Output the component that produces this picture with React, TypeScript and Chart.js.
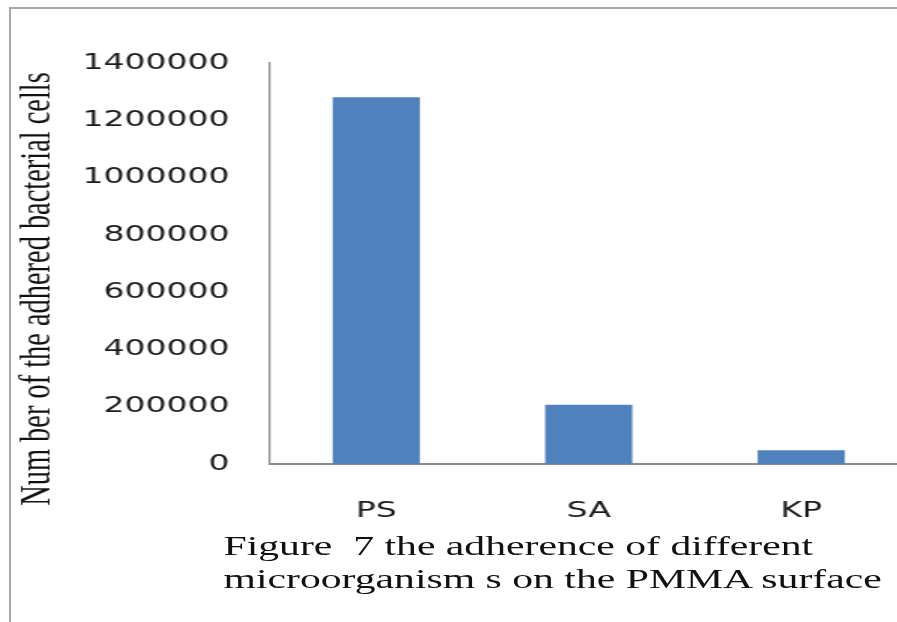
import React, { useEffect, useRef } from "react";
import { Chart, registerables } from "chart.js";

Chart.register(...registerables);

const categories = ["PS", "SA", "KP"];
const adheredCells = [1280000, 207000, 48000];
const yTickMin = 0;
const yTickMax = 1400000;
const yTickStep = 200000;
const yTitle = "Num ber of the adhered bacterial cells";
const captionLines = [
  "Figure\u00a0\u00a07 the adherence of different",
  "microorganism s on the PMMA surface",
];

const SX = 1.5; // horizontal stretch of the whole figure

const yTitlePlugin = {
  id: "yTitlePlugin",
  afterDraw(chart: any) {
    const ctx = chart.ctx;
    ctx.save();
    ctx.translate(25.3, 289);
    ctx.rotate(-Math.PI / 2);
    ctx.font = '28.4px "Liberation Serif"';
    ctx.fillStyle = "#111";
    ctx.textAlign = "center";
    ctx.textBaseline = "middle";
    ctx.fillText(yTitle, 0, 0);
    ctx.restore();
  },
};

export default function App() {
  const ref = useRef<HTMLCanvasElement | null>(null);

  useEffect(() => {
    if (!ref.current) return;
    const chart = new Chart(ref.current, {
      type: "bar",
      data: {
        labels: categories,
        datasets: [
          {
            data: adheredCells,
            backgroundColor: "#4F81BD",
            borderWidth: 0,
            barPercentage: 0.41,
            categoryPercentage: 1,
          },
        ],
      },
      options: {
        animation: false,
        responsive: false,
        devicePixelRatio: 1,
        layout: { padding: { top: 63, left: 0, right: 1, bottom: 63.6 } },
        plugins: {
          legend: { display: false },
          tooltip: { enabled: false },
          title: { display: false },
        },
        scales: {
          x: {
            grid: { display: false, drawTicks: false },
            border: { display: true, color: "#8c8c8c", width: 2 },
            ticks: {
              padding: 34,
              color: "#1a1a1a",
              font: { family: '"DejaVu Sans"', size: 22 },
              maxRotation: 0,
            },
          },
          y: {
            min: yTickMin,
            max: yTickMax,
            grid: { display: false, drawTicks: false },
            border: { display: true, color: "#8c8c8c", width: 1.3 },
            afterFit(scale: any) {
              scale.width = 180;
            },
            ticks: {
              stepSize: yTickStep,
              padding: 27,
              color: "#1a1a1a",
              font: { family: '"DejaVu Sans"', size: 22 },
              callback: (v: any) => String(v),
            },
          },
        },
      },
      plugins: [yTitlePlugin],
    });
    return () => chart.destroy();
  }, []);

  return (
    <div
      style={{
        position: "fixed",
        left: 0,
        top: 0,
        width: 897,
        height: 622,
        overflow: "hidden",
        background: "#fff",
      }}
    >
      <div
        style={{
          position: "absolute",
          left: 9,
          top: 7,
          right: 0,
          bottom: 0,
          borderTop: "2px solid #a8a8a8",
          borderLeft: "2px solid #a8a8a8",
        }}
      />
      <div
        style={{
          position: "absolute",
          left: 0,
          top: 0,
          width: 606,
          height: 622,
          transform: `scaleX(${SX})`,
          transformOrigin: "0 0",
        }}
      >
        <canvas ref={ref} width={606} height={622} style={{ display: "block" }} />
        <div
          style={{
            position: "absolute",
            left: 149,
            top: 529,
            fontFamily: '"Liberation Serif"',
            fontSize: 27.8,
            lineHeight: "33px",
            color: "#111",
            whiteSpace: "nowrap",
          }}
        >
          {captionLines.map((l, i) => (
            <div key={i}>{l}</div>
          ))}
        </div>
      </div>
    </div>
  );
}
